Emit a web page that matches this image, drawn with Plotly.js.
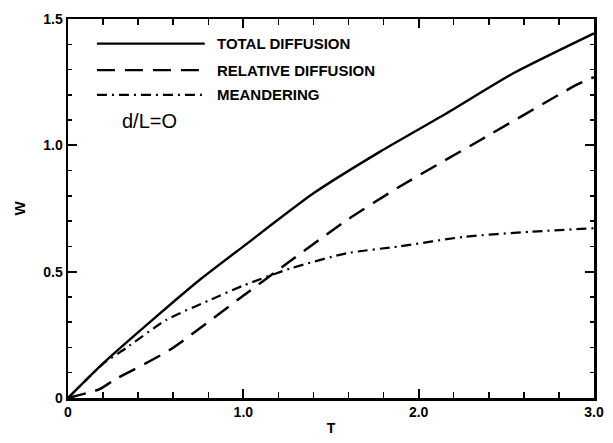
<!DOCTYPE html>
<html><head><meta charset="utf-8">
<script src="https://cdn.plot.ly/plotly-3.0.1.min.js"></script>
<style>html,body{margin:0;padding:0;background:#fff}#chart{width:613px;height:443px}</style>
</head><body><div id="chart"></div>
<script>
// Total diffusion (solid)
const totalT = [0, 0.2, 0.5, 0.75, 1.0, 1.4, 1.78, 2.16, 2.54, 3.0];
const totalW = [0, 0.137, 0.32, 0.467, 0.60, 0.81, 0.975, 1.127, 1.285, 1.443];
// Relative diffusion (dashed)
const relT = [0, 0.18, 0.26, 0.58, 0.98, 1.25, 1.59, 1.89, 2.35, 2.9, 3.0];
const relW = [0, 0.035, 0.07, 0.19, 0.395, 0.533, 0.704, 0.836, 1.02, 1.239, 1.27];
// Meandering (dash-dot)
const meanT = [0, 0.2, 0.33, 0.56, 0.8, 1.0, 1.27, 1.59, 1.89, 2.26, 2.64, 3.0];
const meanW = [0, 0.135, 0.197, 0.309, 0.385, 0.445, 0.513, 0.573, 0.60, 0.638, 0.658, 0.672];

const seriesNames = ["TOTAL DIFFUSION", "RELATIVE DIFFUSION", "MEANDERING"];
const xTickVals = [0, 1, 2, 3];
const xTickText = ["0", "1.0", "2.0", "3.0"];
const yTickVals = [0, 0.5, 1.0, 1.5];
const yTickText = ["0", "0.5", "1.0", "1.5"];

const dashes = ["solid", "18px,10px", "10px,5px,2px,5px"];
const font = "Liberation Sans, Arial, sans-serif";
const condFont = "Liberation Sans Narrow, Liberation Sans, Arial, sans-serif";

const traces = [
  {x: totalT, y: totalW, name: seriesNames[0], mode: "lines", line: {color: "#000", width: 2.4, dash: dashes[0], shape: "spline", smoothing: 0.6}},
  {x: relT, y: relW, name: seriesNames[1], mode: "lines", line: {color: "#000", width: 2.5, dash: dashes[1], shape: "spline", smoothing: 0.6}},
  {x: meanT, y: meanW, name: seriesNames[2], mode: "lines", line: {color: "#000", width: 2.2, dash: dashes[2], shape: "spline", smoothing: 0.6}}
];

// custom legend
const legY = [0.935, 0.865, 0.8];
const shapes = [];
const annotations = [];
seriesNames.forEach((n, i) => {
  shapes.push({type: "line", xref: "paper", yref: "paper", x0: 0.055, x1: 0.26, y0: legY[i], y1: legY[i],
    line: {color: "#000", width: 2.2, dash: dashes[i]}});
  annotations.push({xref: "paper", yref: "paper", x: 0.28, y: legY[i], xanchor: "left", yanchor: "middle",
    text: "<b>" + n + "</b>", showarrow: false, font: {family: condFont, size: 15, color: "#000"}});
});
annotations.push({xref: "paper", yref: "paper", x: 0.098, y: 0.73, xanchor: "left", yanchor: "middle",
  text: "d/L=O", showarrow: false, font: {family: font, size: 20, color: "#000"}});

const axisCommon = {
  showgrid: false, zeroline: false, showline: true, linecolor: "#000", linewidth: 2.5,
  mirror: "allticks", ticks: "inside", tickcolor: "#000", tickwidth: 2, ticklen: 9,
  tickfont: {family: font, size: 14, color: "#000", weight: "bold"}
};

const layout = {
  width: 613, height: 443,
  margin: {l: 68, r: 19, t: 19, b: 45},
  paper_bgcolor: "#fff", plot_bgcolor: "#fff",
  showlegend: false,
  xaxis: Object.assign({}, axisCommon, {
    range: [0, 3], tickmode: "array", tickvals: xTickVals, ticktext: xTickText,
    minor: {tickmode: "linear", tick0: 0, dtick: 0.2, ticks: "inside", ticklen: 6, tickcolor: "#000", tickwidth: 1.5},
    title: {text: "<b>T</b>", font: {family: font, size: 14, color: "#000"}, standoff: 4}
  }),
  yaxis: Object.assign({}, axisCommon, {
    range: [0, 1.5], tickmode: "array", tickvals: yTickVals, ticktext: yTickText,
    minor: {tickmode: "linear", tick0: 0, dtick: 0.1, ticks: "inside", ticklen: 4, tickcolor: "#000", tickwidth: 1.5},
    title: {text: "<b>W</b>", font: {family: font, size: 15, color: "#000"}, standoff: 14}
  }),
  shapes: shapes,
  annotations: annotations
};

Plotly.newPlot("chart", traces, layout, {displayModeBar: false, staticPlot: true});
</script></body></html>
